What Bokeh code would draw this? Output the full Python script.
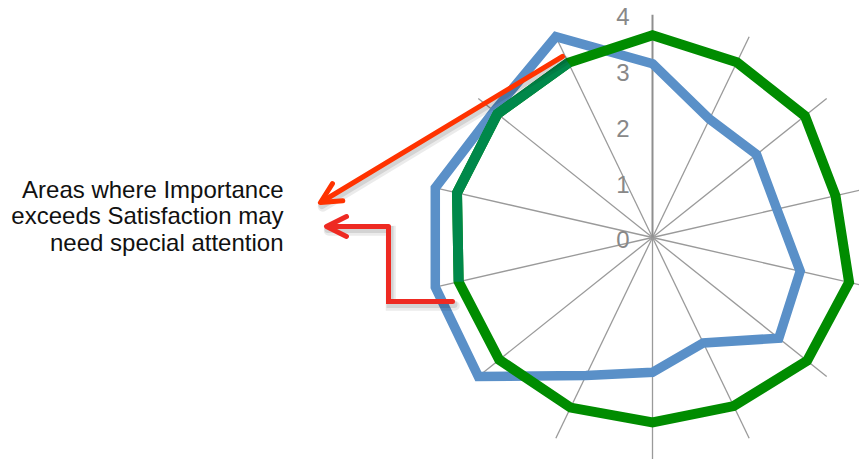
import math
from bokeh.plotting import figure
from bokeh.models import Range1d, Arrow, OpenHead
from bokeh.core.properties import value
from bokeh.embed import file_html
from bokeh.resources import INLINE

# ---------------- data ----------------
categories = ["Q%d" % (i + 1) for i in range(14)]
importance = [3.12, 2.36, 2.39, 2.29, 2.72, 2.90, 2.10, 2.42, 2.75, 4.0, 4.0, 4.0, 3.64, 4.0]
satisfaction = [3.63, 3.49, 3.50, 3.37, 3.62, 3.55, 3.36, 3.32, 3.39, 3.52, 3.57, 3.60, 3.56, 3.48]
tick_values = [0, 1, 2, 3, 4]
tick_labels = ["0", "1", "2", "3", "4"]
annotation_lines = ["Areas where Importance", "exceeds Satisfaction may", "need special attention"]

# ---------------- layout ----------------
W, H = 859, 459
U = 55.7          # pixels per unit
CX, CY = 652, 237  # center in pixels
R_MAX = 4

def px(xp, yp):
    return (xp - CX) / U, (CY - yp) / U

p = figure(width=W, height=H, output_backend="svg", toolbar_location=None,
           x_axis_type=None, y_axis_type=None, min_border=0,
           x_range=Range1d(-CX / U, (W - CX) / U),
           y_range=Range1d(-(H - CY) / U, CY / U))
p.outline_line_color = None
p.grid.visible = False
p.background_fill_color = "white"
p.border_fill_color = "white"

n = len(categories)
angles = [2 * math.pi * k / n for k in range(n)]

def polar(vals):
    xs = [v * math.sin(a) for v, a in zip(vals, angles)]
    ys = [v * math.cos(a) for v, a in zip(vals, angles)]
    return xs, ys

# spokes
for k, a in enumerate(angles):
    if k == 0:
        continue
    r = R_MAX if k != n // 2 else R_MAX + 0.2
    p.line([0, r * math.sin(a)], [0, r * math.cos(a)], line_color="#9a9a9a", line_width=1.3)
# value axis (vertical)
p.line([0, 0], [0, R_MAX], line_color="#8f8f8f", line_width=2)

# series
bx, by = polar(importance)
p.patch(bx, by, fill_color=None, line_color="#5a90c8", line_width=9.5, line_join="miter")
gx, gy = polar(satisfaction)
p.patch(gx, gy, fill_color=None, line_color="#008c00", line_width=10, line_join="miter")
# tinted portion of the green series (left side)
idx = [10, 11, 12, 13]
p.line([gx[i] for i in idx], [gy[i] for i in idx], line_color="#00884a", line_width=10,
       line_join="miter")

# tick labels
p.text(x=[0] * len(tick_values), y=[v - 0.04 for v in tick_values], text=tick_labels,
       text_align="right", text_baseline="middle", x_offset=-23,
       text_font=value("Liberation Sans"), text_font_size="24px", text_color="#888888")

# arrows (with soft shadows)
sdx, sdy = 1.5 / U, -3 / U
RED1 = "#ff3300"
RED2 = "#ee2a22"

a1s = px(562, 56)
a1e = px(320, 202)
a2pts = [px(452, 301), px(388, 301), px(388, 226)]
a2e = px(326, 226)

for (col, alpha, dx, dy, lw) in [("#000000", 0.10, sdx, sdy, 7), ("#000000", 0.08, sdx * 1.5, sdy * 1.4, 10)]:
    p.line([a1s[0] + dx, a1e[0] + dx], [a1s[1] + dy, a1e[1] + dy], line_color=col, line_alpha=alpha,
           line_width=lw, line_cap="round")
    xs = [q[0] + dx for q in a2pts] + [a2e[0] + dx]
    ys = [q[1] + dy for q in a2pts] + [a2e[1] + dy]
    p.line(xs, ys, line_color=col, line_alpha=alpha, line_width=lw, line_join="miter", line_cap="round")

p.add_layout(Arrow(x_start=a1s[0], y_start=a1s[1], x_end=a1e[0], y_end=a1e[1],
                   line_color=RED1, line_width=5, line_cap="round",
                   end=OpenHead(size=20, line_color=RED1, line_width=5, line_cap="round", line_join="round")))
p.line([q[0] for q in a2pts], [q[1] for q in a2pts], line_color=RED2, line_width=5,
       line_join="miter", line_cap="round")
p.add_layout(Arrow(x_start=a2pts[-1][0], y_start=a2pts[-1][1], x_end=a2e[0], y_end=a2e[1],
                   line_color=RED2, line_width=5, line_cap="butt",
                   end=OpenHead(size=20, line_color=RED2, line_width=5, line_cap="round", line_join="round")))

# annotation text
tx, _ = px(283, 0)
baselines = [188.5, 215.2, 241.8]
p.text(x=[tx] * 3, y=[(CY - b) / U for b in baselines], text=annotation_lines,
       text_align="right", text_baseline="alphabetic",
       text_font=value("Liberation Sans"), text_font_size="24px", text_color="#111111")

open("out.html", "w").write(file_html(p, INLINE))
